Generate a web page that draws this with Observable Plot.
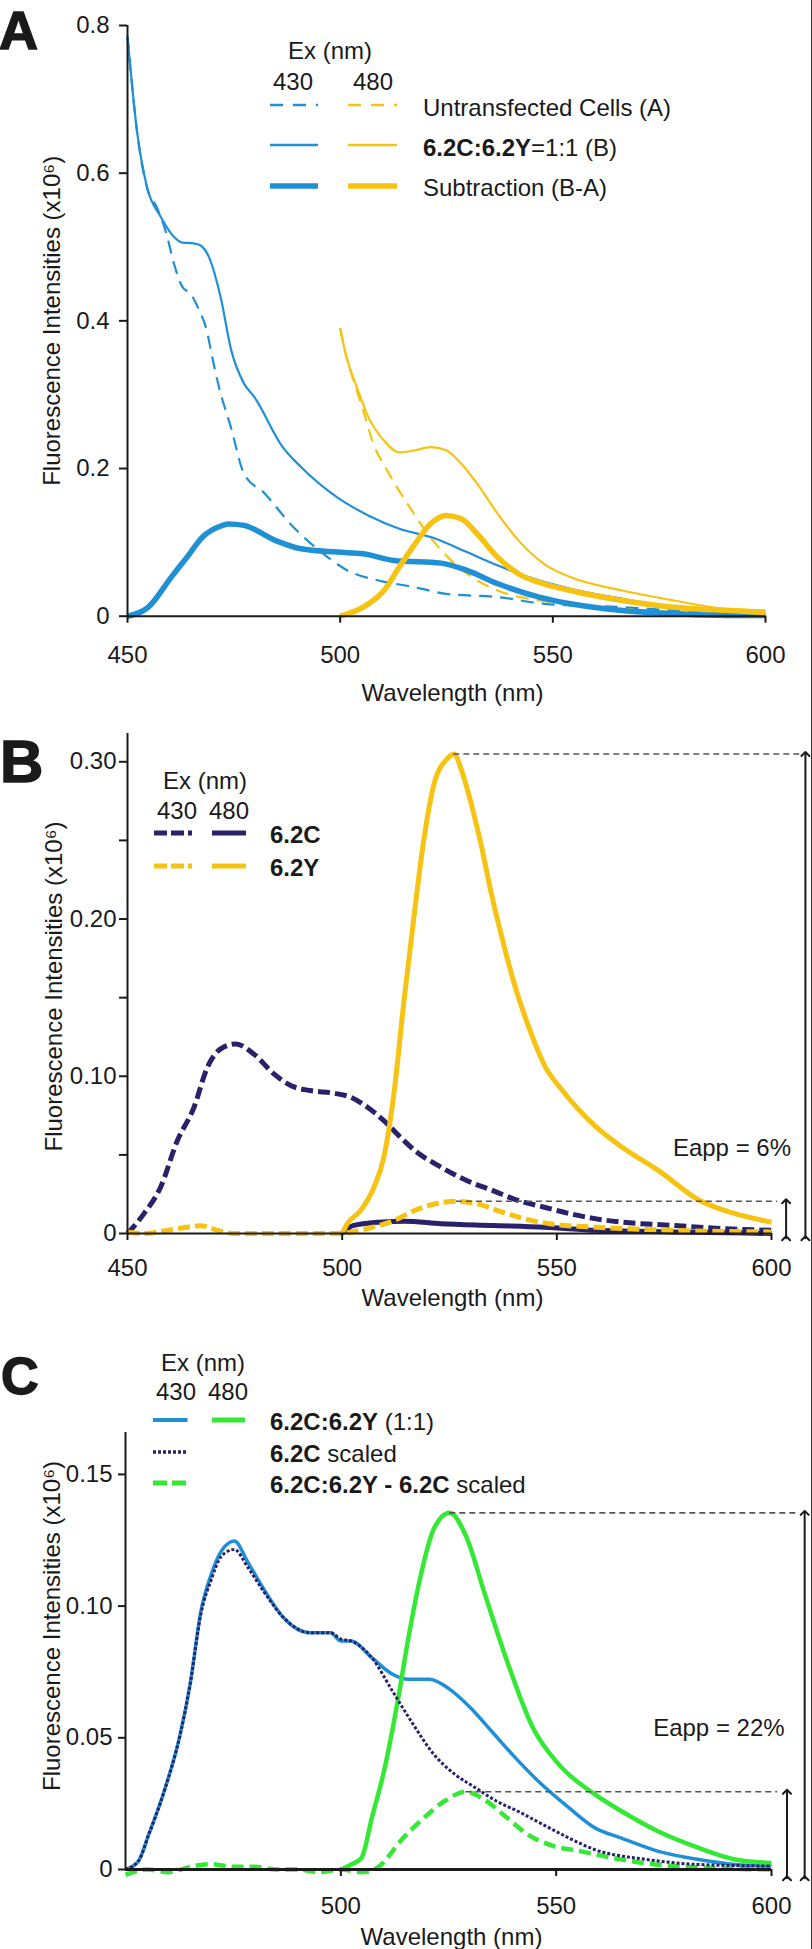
<!DOCTYPE html>
<html><head><meta charset="utf-8">
<script src="https://cdn.jsdelivr.net/npm/d3@7"></script>
<script src="https://cdn.jsdelivr.net/npm/@observablehq/plot@0.6"></script>
<style>
body{margin:0;background:#fff;}
#fig{position:relative;width:812px;height:1949px;overflow:hidden;font-family:"Liberation Sans",Arial,sans-serif;background:#fff;}
.panel{position:absolute;left:0;}
#overlay{position:absolute;left:0;top:0;}
</style></head><body><div id="fig"></div>
<script>
// ---------------- DATA (wavelength nm, intensity x10^6) ----------------
// Panel A
const A_untransfected430 = [[450,0.785],[452.3,0.654],[454.6,0.58],[456.8,0.555],[459.1,0.519],[460.9,0.478],[462.9,0.446],[464.8,0.437],[466.8,0.415],[468.8,0.383],[469.6,0.36],[471.3,0.315],[474.3,0.256],[477.4,0.193],[482.3,0.166],[488.3,0.125],[493.2,0.098],[498.1,0.0755],[501.7,0.062],[509,0.0484],[517.6,0.0393],[524.9,0.0303],[537.1,0.0258],[548.1,0.0168],[566.4,0.0122],[578.5,0.0077],[590.7,0.0035],[600,0.003]];
const A_mix430 = [[450,0.785],[452.3,0.654],[454.6,0.581],[457.8,0.541],[460.9,0.514],[462.9,0.506],[465.6,0.505],[467.2,0.502],[469.1,0.487],[471.9,0.432],[474.4,0.36],[477.4,0.315],[479.8,0.297],[486.5,0.229],[490.8,0.202],[499.3,0.161],[506.6,0.1365],[513.9,0.1185],[522.5,0.105],[529.8,0.0868],[537.1,0.0687],[544.3,0.0529],[554.1,0.0371],[566.3,0.0235],[578.5,0.0122],[590.7,0.0054],[600,0.003]];
const A_sub430 = [[450,0],[454.9,0.0122],[460.3,0.053],[464,0.08],[467.6,0.107],[471.3,0.1207],[473.7,0.125],[477.4,0.123],[484.7,0.1027],[490.8,0.0913],[499.3,0.0868],[505.4,0.0846],[512.7,0.0755],[523.7,0.0719],[529.8,0.062],[537.1,0.0439],[546.8,0.0258],[554.1,0.0168],[566.3,0.0077],[578.5,0.0035],[590.7,0.001],[600,0.001]];
const A_untransfected480 = [[500,0.39],[501.1,0.36],[503,0.322],[505.4,0.279],[507.8,0.234],[511.5,0.193],[516.3,0.148],[521.2,0.107],[526.1,0.0755],[531,0.053],[537,0.0348],[544.4,0.0235],[554.1,0.0168],[566.3,0.01],[578.5,0.0054],[590.7,0.003],[600,0.002]];
const A_mix480 = [[500,0.39],[501.1,0.36],[504.2,0.306],[506.6,0.27],[510.3,0.238],[513.9,0.222],[517.6,0.2247],[521.2,0.229],[524.9,0.2247],[528.5,0.2066],[532.2,0.1795],[537,0.139],[541.9,0.1027],[547.9,0.071],[554.1,0.053],[566.3,0.0348],[578.5,0.0213],[590.7,0.01],[600,0.008]];
const A_sub480 = [[500,0],[505.4,0.0122],[510.3,0.0348],[513.9,0.0665],[517.6,0.098],[521.2,0.125],[524.9,0.1365],[528.5,0.132],[532.2,0.1117],[537,0.08],[541.9,0.0575],[547.9,0.0439],[554.1,0.0348],[566.3,0.0213],[578.5,0.0122],[590.7,0.008],[600,0.005]];
// Panel B
const B_C430 = [[450,0],[453.8,0.0125],[457.7,0.0294],[461.6,0.059],[465.5,0.0803],[468.6,0.1057],[471.7,0.1174],[475.2,0.1206],[479.4,0.1142],[484.1,0.1015],[488,0.0941],[492.6,0.0909],[498.1,0.0892],[502,0.0867],[505.9,0.0803],[509.7,0.0718],[514.4,0.059],[516.9,0.0528],[523,0.0422],[529,0.0337],[535.1,0.0273],[541.1,0.0209],[547.1,0.0167],[553.2,0.0125],[559.2,0.0093],[565.2,0.0072],[577.3,0.0051],[589.3,0.003],[600,0.002]];
const B_C480 = [[500,0],[502.5,0.005],[508.5,0.0072],[514.5,0.0078],[523,0.0062],[535,0.0051],[547.1,0.004],[559.2,0.002],[577,0.001],[600,0]];
const B_Y430 = [[450,0.001],[453.8,0],[459.3,0.002],[463.9,0.004],[467,0.005],[471,0.002],[474.8,0],[480,0],[490,0],[500,0],[502.4,0.001],[507.2,0.004],[512.1,0.0083],[516.9,0.0146],[521.7,0.0189],[526.6,0.0205],[531.4,0.0189],[536.2,0.0146],[541.1,0.0104],[548.3,0.0062],[559.2,0.004],[577.3,0.002],[600,0.001]];
const B_Y480 = [[500,0],[501.2,0.0062],[504.3,0.0146],[507.4,0.0294],[509.7,0.0485],[512.1,0.09],[514.4,0.148],[516.7,0.201],[519,0.25],[521.4,0.286],[524.5,0.302],[526,0.305],[528,0.293],[529.9,0.275],[532.3,0.248],[534.6,0.218],[537,0.1905],[540.1,0.1587],[543.2,0.1333],[547.5,0.105],[550.7,0.093],[559.2,0.0676],[565.2,0.0549],[573.7,0.04],[583.3,0.021],[591.7,0.0125],[600,0.0072]];
// Panel C
const C_mix430 = [[450,0],[453,0.0032],[455.4,0.0133],[459,0.0298],[462.7,0.0513],[465,0.0703],[467.5,0.098],[469.9,0.112],[472.3,0.121],[475.3,0.1247],[478.3,0.117],[481.9,0.107],[486.7,0.0956],[492.8,0.0899],[497.6,0.0899],[500,0.0867],[502.4,0.0867],[507.2,0.0804],[512,0.0741],[515.7,0.0722],[520.5,0.0722],[525.3,0.0684],[530.1,0.0614],[535,0.0525],[539.8,0.0437],[545.8,0.0336],[553,0.0234],[559,0.0158],[565,0.012],[573.5,0.007],[583.1,0.0038],[591.6,0.0019],[600,0.0013]];
const C_C430scaled = [[450,0],[453,0.0032],[455.4,0.0133],[459,0.0298],[462.7,0.0513],[465,0.0703],[467.5,0.097],[469.9,0.11],[472.3,0.119],[475.3,0.1215],[478.3,0.115],[481.9,0.106],[486.7,0.0956],[492.8,0.0899],[497.6,0.0899],[500,0.0875],[502.4,0.0867],[507.2,0.0804],[512,0.0677],[516.8,0.0551],[521.6,0.0437],[526.5,0.0361],[531.3,0.031],[536.1,0.026],[541,0.0222],[546.9,0.0171],[552.9,0.012],[558.9,0.0076],[571,0.0038],[583.1,0.0019],[600,0.0013]];
const C_mix480 = [[500,0],[502.4,0.0019],[504.8,0.0044],[507.2,0.0196],[510.2,0.0386],[513.2,0.0639],[515.7,0.088],[518.1,0.1083],[521.7,0.1297],[525.3,0.1354],[528.9,0.1272],[533.7,0.1032],[538.6,0.0791],[544.6,0.0538],[550.6,0.0399],[559,0.0285],[565.1,0.0222],[573.5,0.0146],[583.1,0.0082],[591.6,0.0038],[600,0.0025]];
const C_diff480 = [[450,-0.002],[455,0],[460,-0.001],[465,0.001],[470,0.002],[475,0.001],[480,0.001],[485,0],[490,0],[495,-0.001],[500,0],[505,-0.001],[508.4,0.0006],[514.5,0.012],[519.3,0.0196],[524.1,0.026],[529,0.0295],[533.8,0.026],[538.6,0.0196],[543.4,0.0133],[549.4,0.0089],[555.4,0.007],[565.1,0.0038],[577.2,0.0013],[600,0]];

// tick values / labels
const xTicksAB = [450, 500, 550, 600];
const xTicksC = [500, 550, 600];
const yTicksA = [0, 0.2, 0.4, 0.6, 0.8];
const yTicksB = [0, 0.05, 0.10, 0.15, 0.20, 0.25, 0.30];
const yLabelledB = [0, 0.10, 0.20, 0.30];
const yTicksC = [0, 0.05, 0.10, 0.15];
const xTitle = "Wavelength (nm)";
const yTitle = "Fluorescence Intensities (x10\u2076)";
const legendA = ["Untransfected Cells (A)", "6.2C:6.2Y=1:1 (B)", "Subtraction (B-A)"];
const legendB = ["6.2C", "6.2Y"];
const legendC = ["6.2C:6.2Y (1:1)", "6.2C scaled", "6.2C:6.2Y - 6.2C scaled"];
const eappB = "Eapp = 6%";
const eappC = "Eapp = 22%";

// ---------------- STYLE ----------------
const BLUE = "#1f8fd6", YELLOW = "#f6c312", NAVY = "#29216a", GREEN = "#36e836", INK = "#1a1a1a";
const FONT = "Liberation Sans, Arial, sans-serif";
const fig = document.getElementById("fig");

function fmtY(d, digits) { return d === 0 ? "0" : d.toFixed(digits); }
const P = d => d[0], V = d => d[1];

function panel(cfg) {
  const marks = [];
  for (const s of cfg.series) {
    marks.push(Plot.line(s.data, {x: P, y: V, stroke: s.stroke, strokeWidth: s.width, strokeDasharray: s.dash, curve: "monotone-x", strokeLinecap: s.cap || "butt"}));
  }
  // axis lines
  marks.push(Plot.ruleX([450], {y1: () => 0, y2: () => cfg.yMax, stroke: INK, strokeWidth: 2}));
  marks.push(Plot.ruleY([0], {x1: () => 450, x2: () => 600, stroke: INK, strokeWidth: cfg.xAxisWidth || 2}));
  marks.push(Plot.axisY({ticks: cfg.yTicks, tickFormat: cfg.yFormat, tickSize: cfg.yTickSize, tickPadding: cfg.yPad, fontSize: 24, strokeWidth: 2, stroke: INK, fill: INK}));
  marks.push(Plot.axisX({ticks: cfg.xTicks, tickFormat: d => String(d), tickSize: 7, tickPadding: cfg.xPad, fontSize: 24, strokeWidth: 2, stroke: INK, fill: INK}));
  marks.push(Plot.text([xTitle], {text: d => d, frameAnchor: "bottom", lineAnchor: "top", dy: cfg.xTitleDy, dx: cfg.xTitleDx, fontSize: 24, fill: INK}));
  marks.push(Plot.text([yTitle], {text: d => d, frameAnchor: "left", rotate: -90, lineAnchor: "middle", textAnchor: "middle", dx: cfg.yTitleDx, dy: cfg.yTitleDy, fontSize: 24, fill: INK}));
  if (cfg.extra) marks.push(...cfg.extra);
  const chart = Plot.plot({
    width: 812, height: cfg.height,
    marginTop: cfg.mt, marginBottom: cfg.mb, marginLeft: cfg.ml, marginRight: cfg.mr,
    x: {domain: [450, 600]},
    y: {domain: [0, cfg.yMax]},
    style: {fontFamily: FONT, background: "transparent", overflow: "visible", color: INK},
    marks
  });
  chart.classList.add("panel");
  chart.style.top = cfg.top + "px";
  fig.appendChild(chart);
}

function annotations(peakBig, peakSmall, xEndBig, xArrowBig, xEndSmall, xArrowSmall, yLow) {
  const dash = {stroke: "#555", strokeWidth: 1.6, strokeDasharray: "6,4"};
  const arr = {stroke: INK, strokeWidth: 2, markerStart: "arrow", markerEnd: "arrow"};
  return [
    Plot.ruleY([peakBig], {y: V, x1: P, x2: () => xEndBig, ...dash}),
    Plot.ruleY([peakSmall], {y: V, x1: P, x2: () => xEndSmall, ...dash}),
    Plot.line([[xArrowBig, yLow], [xArrowBig, peakBig[1]]], {x: P, y: V, ...arr}),
    Plot.line([[xArrowSmall, yLow], [xArrowSmall, peakSmall[1]]], {x: P, y: V, ...arr})
  ];
}

// Panel A
panel({
  top: 0, height: 720, mt: 25, mb: 104.3, ml: 127, mr: 47, yMax: 0.8,
  yTicks: yTicksA, yFormat: d => fmtY(d, 1), yTickSize: 8, yPad: 10,
  xTicks: xTicksAB, xPad: 23, xTitleDy: 67.6, xTitleDx: 6, yTitleDx: -75, yTitleDy: 0,
  series: [
    {data: A_untransfected430, stroke: BLUE, width: 2.2, dash: "13,8"},
    {data: A_untransfected480, stroke: YELLOW, width: 2.2, dash: "13,8"},
    {data: A_mix430, stroke: BLUE, width: 2.2},
    {data: A_mix480, stroke: YELLOW, width: 2.2},
    {data: A_sub430, stroke: BLUE, width: 5.5},
    {data: A_sub480, stroke: YELLOW, width: 5.5}
  ]
});

// Panel B
const bPeakBig = d3.greatest(B_Y480, V);
const bPeakSmall = d3.greatest(B_Y430.filter(d => d[0] > 500), V);
panel({
  top: 700, height: 640, mt: 33, mb: 107, ml: 127, mr: 41, yMax: 0.318,
  yTicks: yTicksB, yFormat: d => (yLabelledB.some(v => Math.abs(v - d) < 1e-9) ? fmtY(d, 2) : ""), yTickSize: 8, yPad: 3,
  xTicks: xTicksAB, xPad: 18, xTitleDy: 55, xTitleDx: 3, yTitleDx: -73, yTitleDy: 3,
  series: [
    {data: B_C430, stroke: NAVY, width: 5, dash: "12,5"},
    {data: B_C480, stroke: NAVY, width: 5},
    {data: B_Y480, stroke: YELLOW, width: 5},
    {data: B_Y430, stroke: YELLOW, width: 5, dash: "12,5"}
  ],
  extra: annotations(bPeakBig, bPeakSmall, 607.2, 607.9, 601.4, 603.4, -0.003)
});

// Panel C
const cPeakBig = d3.greatest(C_mix480, V);
const cPeakSmall = d3.greatest(C_diff480, V);
panel({
  top: 1330, height: 619, mt: 102, mb: 80, ml: 125, mr: 41, yMax: 0.1659,
  yTicks: yTicksC, yFormat: d => fmtY(d, 2), yTickSize: 7, yPad: 6,
  xTicks: xTicksC, xPad: 20.7, xTitleDy: 58, xTitleDx: 3, yTitleDx: -73, yTitleDy: -25,
  xAxisWidth: 3,
  series: [
    {data: C_mix430, stroke: BLUE, width: 3.5},
    {data: C_mix480, stroke: GREEN, width: 4.5},
    {data: C_diff480, stroke: GREEN, width: 4.5, dash: "12,6"},
    {data: C_C430scaled, stroke: NAVY, width: 3, dash: "3,2"}
  ],
  extra: annotations(cPeakBig, cPeakSmall, 606.5, 607.7, 601.4, 603.6, -0.0033)
});

// ---------------- Overlay: panel letters, legends, annotations text ----------------
const svg = d3.select(fig).append("svg").attr("id", "overlay").attr("width", 812).attr("height", 1949)
  .style("font-family", FONT);
function text(x, y, parts, opt = {}) {
  const t = svg.append("text").attr("x", x).attr("y", y).attr("dominant-baseline", "central")
    .attr("text-anchor", opt.anchor || "start").attr("font-size", opt.size || 24).attr("fill", INK);
  for (const [s, b] of parts) t.append("tspan").text(s).attr("font-weight", b ? "bold" : null);
  return t;
}
function seg(x1, x2, y, stroke, w, dash) {
  svg.append("line").attr("x1", x1).attr("x2", x2).attr("y1", y).attr("y2", y)
    .attr("stroke", stroke).attr("stroke-width", w).attr("stroke-dasharray", dash || null);
}
// panel letters
text(-1, 30, [["A", true]], {size: 54}).attr("stroke", INK).attr("stroke-width", 1.5);
text(0, 761, [["B", true]], {size: 60}).attr("stroke", INK).attr("stroke-width", 1.5);
text(1, 1376, [["C", true]], {size: 52}).attr("stroke", INK).attr("stroke-width", 1.5);

// Legend A
text(330, 50, [["Ex (nm)", false]], {anchor: "middle"});
text(293, 81, [["430", false]], {anchor: "middle"});
text(373, 81, [["480", false]], {anchor: "middle"});
seg(270, 318, 105, BLUE, 2.4, "13,10"); seg(348, 397, 105, YELLOW, 2.4, "13,10");
seg(270, 318, 145, BLUE, 2.4); seg(348, 397, 145, YELLOW, 2.4);
seg(270, 318, 186, BLUE, 5.5); seg(348, 397, 186, YELLOW, 5.5);
text(423, 107, [[legendA[0], false]]);
text(423, 147, [[legendA[1].split("=")[0], true], ["=" + legendA[1].split("=")[1], false]]);
text(423, 187, [[legendA[2], false]]);

// Legend B
text(205, 780, [["Ex (nm)", false]], {anchor: "middle"});
text(177, 810, [["430", false]], {anchor: "middle"});
text(229, 810, [["480", false]], {anchor: "middle"});
seg(154, 192, 833, NAVY, 5, "13,4"); seg(212, 246, 833, NAVY, 5);
seg(154, 192, 866, YELLOW, 5, "13,4"); seg(212, 246, 866, YELLOW, 5);
text(270, 834, [[legendB[0], true]]);
text(270, 867, [[legendB[1], true]]);
text(791, 1147, [[eappB, false]], {anchor: "end"});

// Legend C
text(203, 1362, [["Ex (nm)", false]], {anchor: "middle"});
text(176, 1391, [["430", false]], {anchor: "middle"});
text(228, 1391, [["480", false]], {anchor: "middle"});
seg(153, 187.5, 1420, BLUE, 4); seg(212, 245, 1420, GREEN, 5);
seg(153, 187, 1452, NAVY, 3.5, "3,2");
seg(153, 191, 1483, GREEN, 5, "14,5");
text(270, 1421, [["6.2C:6.2Y", true], [" (1:1)", false]]);
text(270, 1453, [["6.2C", true], [" scaled", false]]);
text(270, 1484, [["6.2C:6.2Y - 6.2C", true], [" scaled", false]]);
text(784.6, 1727, [[eappC, false]], {anchor: "end"});

// right border
svg.append("line").attr("x1", 811.5).attr("x2", 811.5).attr("y1", 0).attr("y2", 1949).attr("stroke", "#333").attr("stroke-width", 1);
</script></body></html>
